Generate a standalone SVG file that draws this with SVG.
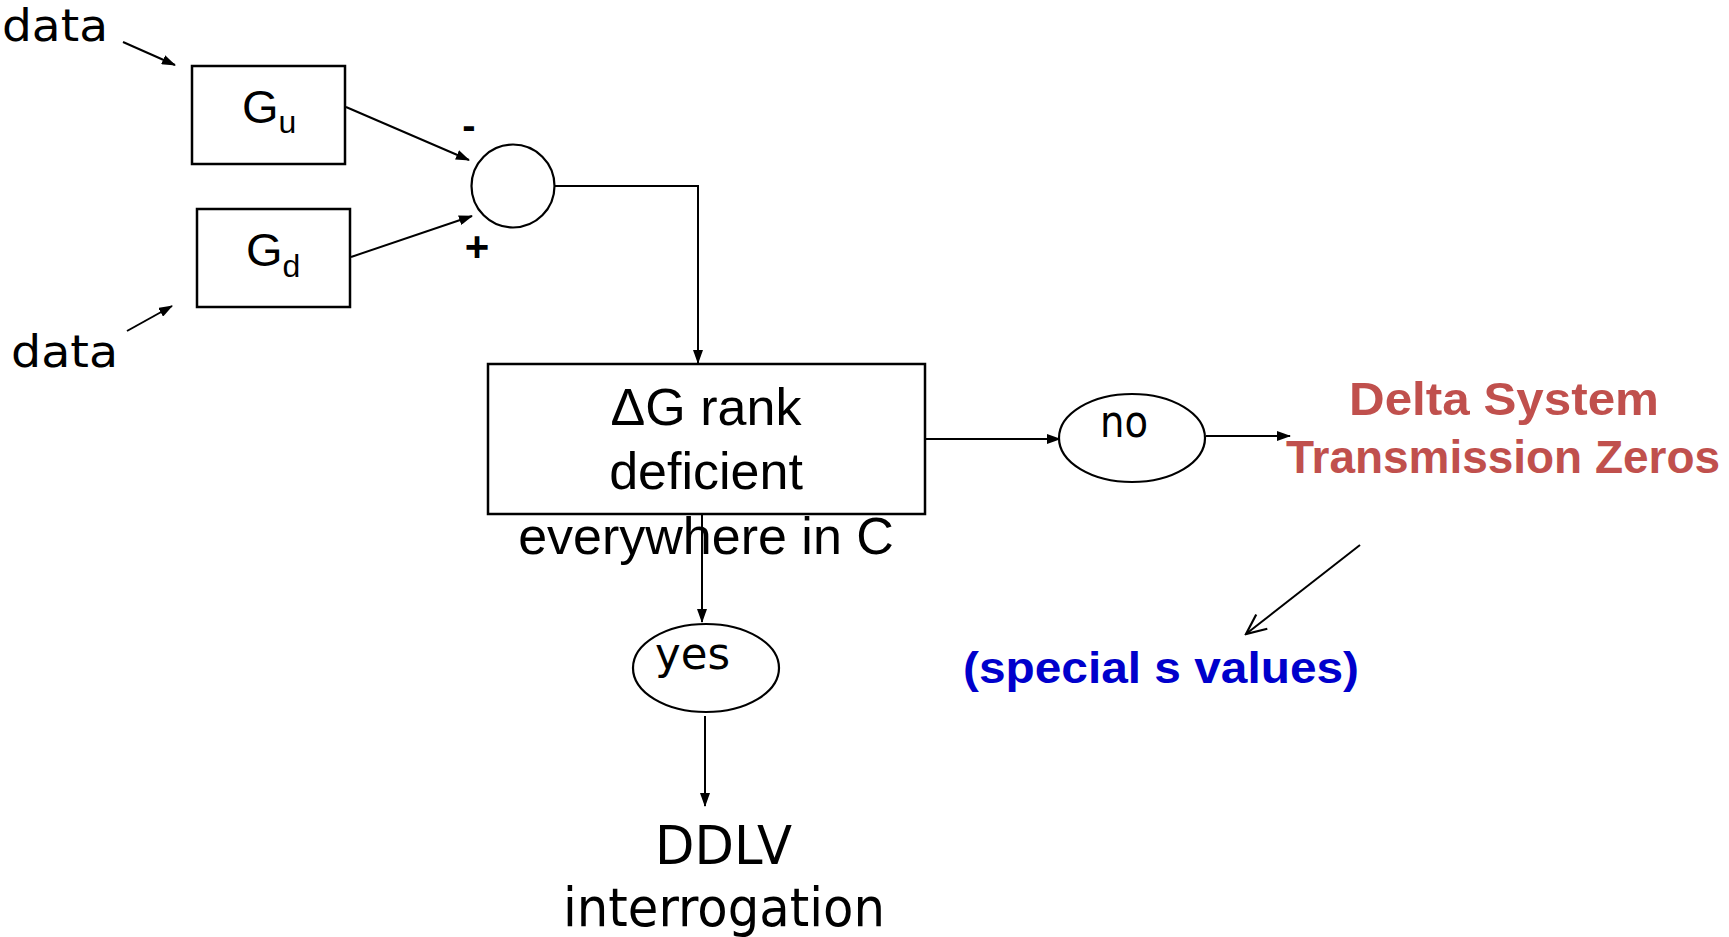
<svg xmlns="http://www.w3.org/2000/svg" width="1729" height="937" viewBox="0 0 1729 937">
<defs>
<style>
.box{fill:#fff;stroke:#000;stroke-width:2.5}
.ln{fill:none;stroke:#000;stroke-width:2}
.hand{font-family:"DejaVu Sans",sans-serif;fill:#000}
.arial{font-family:"Liberation Sans",Arial,sans-serif;fill:#000}
.red{font-family:"Liberation Sans",Arial,sans-serif;font-weight:bold;fill:#c0504d}
</style>
<marker id="ah" markerUnits="userSpaceOnUse" markerWidth="14" markerHeight="10" refX="13" refY="5" orient="auto">
<path d="M0,0 L14,5 L0,10 Z" fill="#000"/>
</marker>
<marker id="open" markerUnits="userSpaceOnUse" markerWidth="24" markerHeight="24" refX="22" refY="12" orient="auto">
<path d="M2,3 L22,12 L2,21" fill="none" stroke="#000" stroke-width="2.2"/>
</marker>
</defs>
<rect width="1729" height="937" fill="#fff"/>

<g id="connectors">
<line class="ln" x1="123" y1="42" x2="175" y2="65" marker-end="url(#ah)"/>
<line class="ln" x1="127" y1="331" x2="172" y2="306" marker-end="url(#ah)"/>
<line class="ln" x1="346" y1="107" x2="469" y2="160" marker-end="url(#ah)"/>
<line class="ln" x1="351" y1="257" x2="472" y2="216" marker-end="url(#ah)"/>
<polyline class="ln" points="555,186 698,186 698,363" marker-end="url(#ah)"/>
<line class="ln" x1="926" y1="439" x2="1060" y2="439" marker-end="url(#ah)"/>
<line class="ln" x1="1206" y1="436" x2="1290" y2="436" marker-end="url(#ah)"/>
<line class="ln" x1="702" y1="515" x2="702" y2="622" marker-end="url(#ah)"/>
<line class="ln" x1="705" y1="716" x2="705" y2="806" marker-end="url(#ah)"/>
<line class="ln" x1="1360" y1="545" x2="1246" y2="634" marker-end="url(#open)"/>
</g>

<g id="data-top"><text class="hand" x="2" y="41" font-size="44" textLength="106" lengthAdjust="spacingAndGlyphs">data</text></g>
<g id="data-bottom"><text class="hand" x="11" y="367" font-size="44" textLength="107" lengthAdjust="spacingAndGlyphs">data</text></g>

<g id="Gu">
<rect class="box" x="192" y="66" width="153" height="98"/>
<text class="arial" x="242" y="123" font-size="47">G<tspan font-size="32" dy="10">u</tspan></text>
</g>
<g id="Gd">
<rect class="box" x="197" y="209" width="153" height="98"/>
<text class="arial" x="246" y="266" font-size="47">G<tspan font-size="32" dy="11">d</tspan></text>
</g>

<g id="sum">
<circle cx="513" cy="186" r="41.5" fill="#fff" stroke="#000" stroke-width="2.2"/>
<text class="arial" x="469" y="139" font-size="40" font-weight="bold" text-anchor="middle">-</text>
<text class="arial" x="477" y="261" font-size="42" font-weight="bold" text-anchor="middle">+</text>
</g>

<g id="rank-box">
<rect class="box" x="488" y="364" width="437" height="150"/>
<text class="arial" x="706" y="425" font-size="52" text-anchor="middle">ΔG rank</text>
<text class="arial" x="706" y="489" font-size="52" text-anchor="middle">deficient</text>
<text class="arial" x="706" y="554" font-size="52" text-anchor="middle">everywhere in C</text>
</g>

<g id="no">
<ellipse cx="1132" cy="438" rx="73" ry="44" fill="#fff" stroke="#000" stroke-width="2.2"/>
<text class="hand" x="1100" y="437" font-size="44" textLength="48" lengthAdjust="spacingAndGlyphs">no</text>
</g>

<g id="yes">
<ellipse cx="706" cy="668" rx="73" ry="44" fill="#fff" stroke="#000" stroke-width="2.2"/>
<text class="hand" x="655" y="669" font-size="44" textLength="75" lengthAdjust="spacingAndGlyphs">yes</text>
</g>

<g id="ddlv">
<text class="hand" x="655" y="864" font-size="54" textLength="137" lengthAdjust="spacingAndGlyphs">DDLV</text>
<text class="hand" x="563" y="926" font-size="54" textLength="322" lengthAdjust="spacingAndGlyphs">interrogation</text>
</g>

<g id="zeros">
<text class="red" x="1349" y="415" font-size="47" textLength="310" lengthAdjust="spacingAndGlyphs">Delta System</text>
<text class="red" x="1286" y="473" font-size="46" textLength="434" lengthAdjust="spacingAndGlyphs">Transmission Zeros</text>
</g>

<g id="special">
<text x="963" y="683" font-family="Liberation Sans,Arial,sans-serif" font-weight="bold" font-size="45" fill="#0000cc" textLength="396" lengthAdjust="spacingAndGlyphs">(special s values)</text>
</g>
</svg>
